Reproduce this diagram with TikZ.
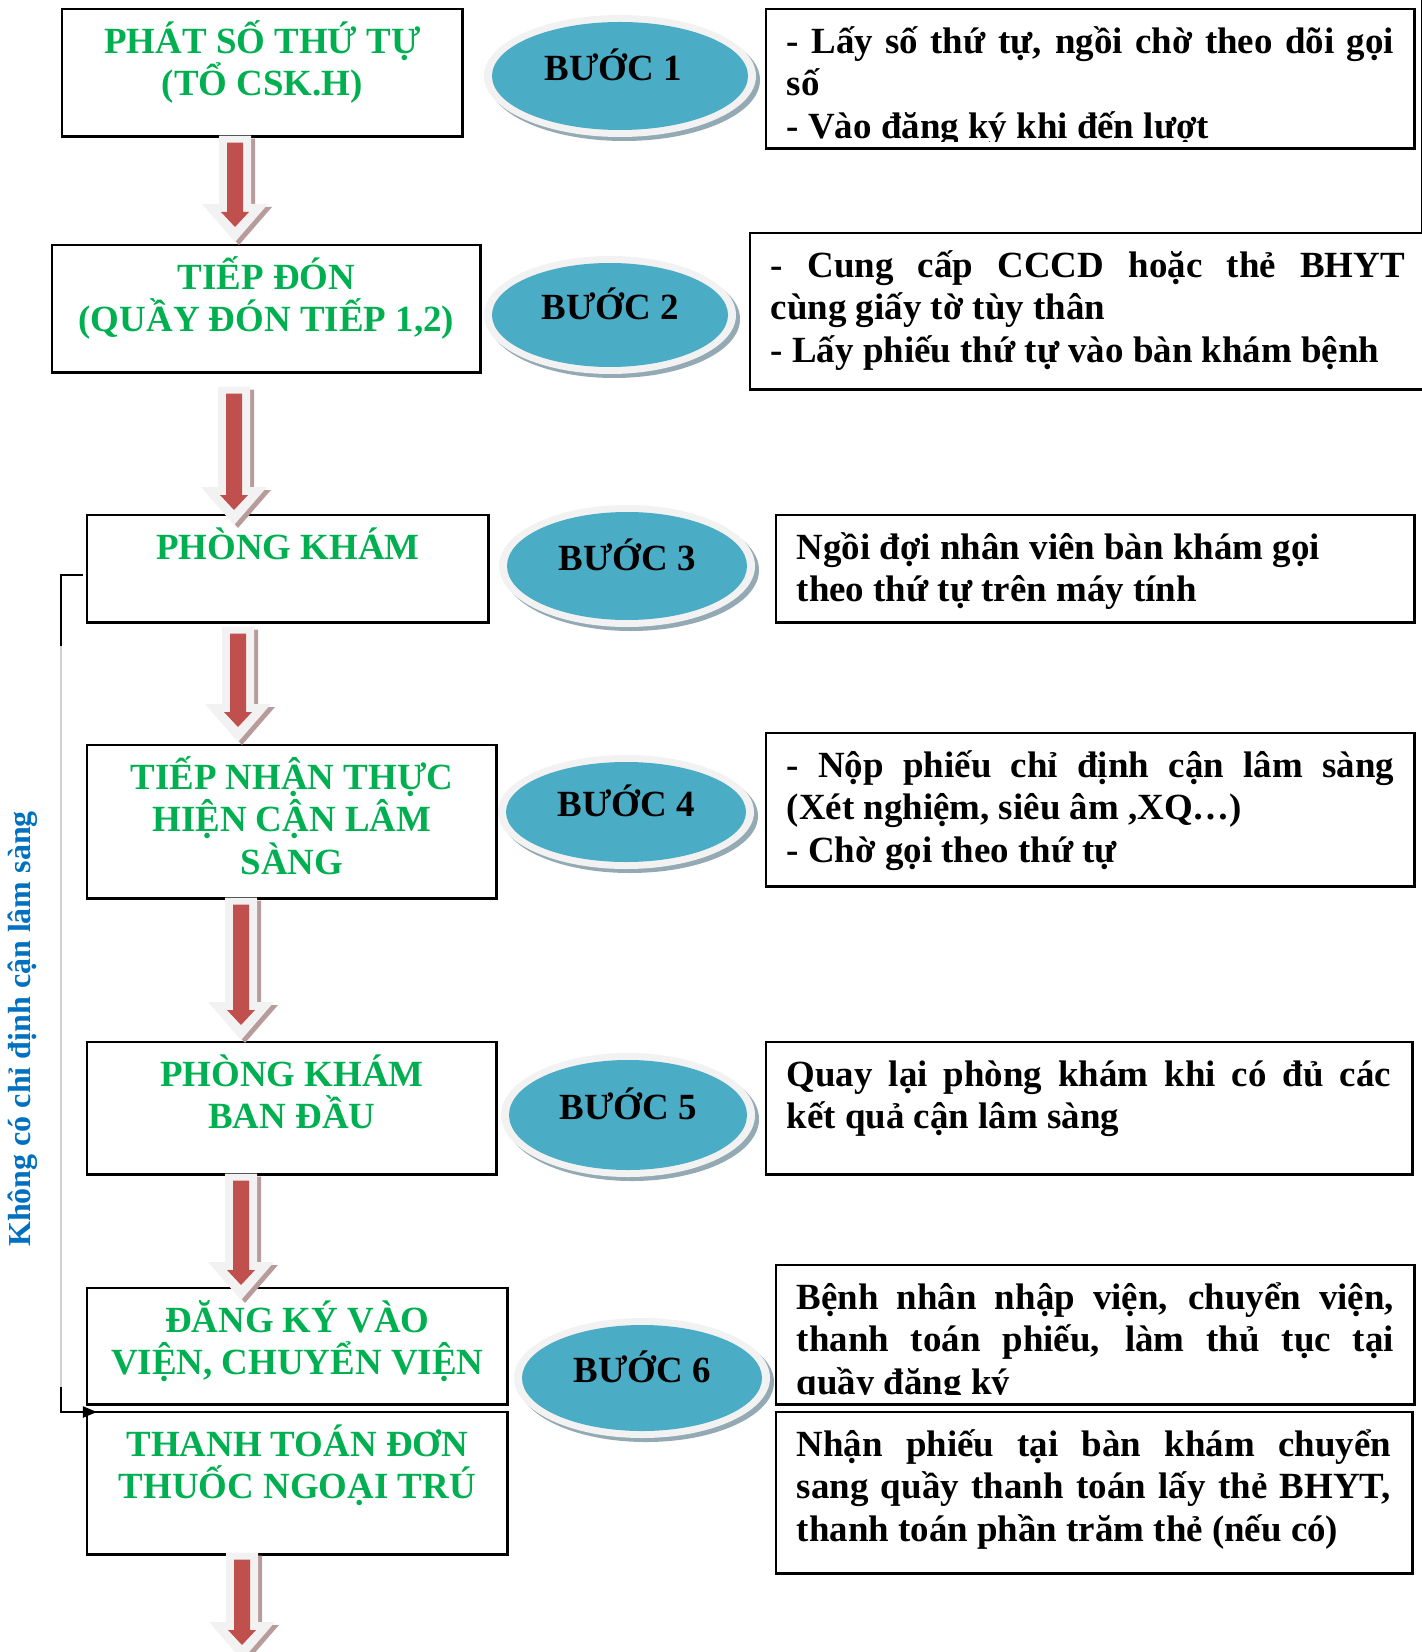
\documentclass[tikz,border=0pt]{standalone}
\usepackage{fontspec}
\setmainfont{Liberation Serif}
\usetikzlibrary{arrows.meta,calc,positioning}

\definecolor{placegreen}{HTML}{00B050}
\definecolor{sideblue}{HTML}{0070C0}
\definecolor{ovalblue}{HTML}{4BACC6}
\definecolor{ovalrim}{HTML}{F2F2F2}
\definecolor{ovalshade}{HTML}{93AAB4}
\definecolor{arrowred}{HTML}{C0504D}
\definecolor{arrowpale}{HTML}{F2F2F2}
\definecolor{arrowshade}{HTML}{B89C9C}

\newcommand{\spreadline}[2]{\leavevmode\hbox to #1{#2}}
\newcommand{\topstrut}{\rule{0pt}{0.445cm}}
\newcommand{\notestart}{\spaceskip=0pt\xspaceskip=0pt\topstrut}

% #1 = x of the arrow, #2 = from, #3 = to, #4 and #5 = shifts of top and tip
\newcommand{\flowarrow}[5]{%
  \coordinate (ax) at (#1,0);
  \coordinate (atop) at ($(#2 -| ax)+(0,#4)$);
  \coordinate (atip) at ($(#3 -| ax)+(0,#5)$);
  \fill[arrowshade] ($(atop)+(-12,3)$) -- ($(atip)+(-12,-35)$) -- ($(atip)+(-29,-35)$) -- ($(atip)+(4,3)$)
    -- ($(atip)+(37,-35)$) -- ($(atip)+(20,-35)$) -- ($(atop)+(20,3)$) -- cycle;
  \fill[arrowpale] ($(atop)+(-16,0)$) -- ($(atip)+(-16,-38)$) -- ($(atip)+(-33,-38)$) -- (atip)
    -- ($(atip)+(33,-38)$) -- ($(atip)+(16,-38)$) -- ($(atop)+(16,0)$) -- cycle;
  \fill[arrowred] ($(atop)+(-8,7)$) -- ($(atip)+(-8,-30)$) -- ($(atip)+(-14,-30)$) -- ($(atip)+(0,-15)$)
    -- ($(atip)+(14,-30)$) -- ($(atip)+(8,-30)$) -- ($(atop)+(8,7)$) -- cycle;
}

\begin{document}
\begin{tikzpicture}[x=0.01cm,y=-0.01cm]
\tikzstyle{every node}+=[inner sep=0pt]
\tikzstyle{txt}=[font=\fontsize{10.5pt}{12.1pt}\selectfont\bfseries]
\tikzstyle{placebox}=[draw=black, line width=0.7pt, anchor=north west]
\tikzstyle{placename}=[txt, text=placegreen, align=center, anchor=north]
\tikzstyle{notebox}=[draw=black, line width=0.7pt, anchor=north west]
\tikzstyle{notetext}=[txt, align=left, anchor=north west]
\tikzstyle{steplabel}=[txt]
\tikzstyle{bracketline}=[black, line width=0.6pt]
\tikzstyle{fadeline}=[black!18, line width=0.5pt]
\tikzstyle{sidelabel}=[font=\fontsize{9.1pt}{11pt}\selectfont\bfseries, text=sideblue, rotate=90]

\useasboundingbox (0,0) rectangle (1422,1652);
\clip (0,0) rectangle (1422,1652);

% places
\node[placebox, minimum width=4.00cm, minimum height=1.27cm] (ph1) at (61,8) {};
\node[placebox, minimum width=4.28cm, minimum height=1.27cm] (ph2) at (51,244) {};
\node[placebox, minimum width=4.01cm, minimum height=1.07cm] (ph3) at (86,514) {};
\node[placebox, minimum width=4.09cm, minimum height=1.53cm] (ph4) at (86,744) {};
\node[placebox, minimum width=4.09cm, minimum height=1.32cm] (ph5) at (86,1041) {};
\node[placebox, minimum width=4.20cm, minimum height=1.16cm] (ph6) at (86,1287) {};
\node[placebox, minimum width=4.20cm, minimum height=1.42cm] (ph7) at (86,1411) {};

\node[placename] (ph1t) at (ph1.north) {\topstrut PHÁT SỐ THỨ TỰ\\(TỔ CSK.H)};
\node[placename] (ph2t) at (ph2.north) {\topstrut TIẾP ĐÓN\\(QUẦY ĐÓN TIẾP 1,2)};
\node[placename] (ph3t) at (ph3.north) {\topstrut PHÒNG KHÁM};
\node[placename] (ph4t) at (ph4.north) {\topstrut TIẾP NHẬN THỰC\\HIỆN CẬN LÂM\\SÀNG};
\node[placename] (ph5t) at (ph5.north) {\topstrut PHÒNG KHÁM\\BAN ĐẦU};
\node[placename] (ph6t) at (ph6.north) {\topstrut ĐĂNG KÝ VÀO\\VIỆN, CHUYỂN VIỆN};
\node[placename] (ph7t) at (ph7.north) {\topstrut THANH TOÁN ĐƠN\\THUỐC NGOẠI TRÚ};

% notes
\node[notebox, minimum width=6.48cm, minimum height=1.39cm] (nt1) at (765,8) {};
\node[notebox, minimum width=6.75cm, minimum height=1.56cm] (nt2) at (749,232) {};
\node[notebox, minimum width=6.38cm, minimum height=1.07cm] (nt3) at (775,514) {};
\node[notebox, minimum width=6.48cm, minimum height=1.53cm] (nt4) at (765,732) {};
\node[notebox, minimum width=6.46cm, minimum height=1.32cm] (nt5) at (765,1041) {};
\node[notebox, minimum width=6.38cm, minimum height=1.39cm] (nt6) at (775,1264) {};
\node[notebox, minimum width=6.36cm, minimum height=1.61cm] (nt7) at (775,1411) {};
\draw[line width=0.7pt] (nt2.north east) ++(-5,0) -- ++(0,-240);

\begin{scope}
\clip (nt1.north west) rectangle ($(nt1.south east)+(0,-8)$);
\node[notetext, text width=6.07cm] (nt1t) at ($(nt1.north west)+(21,0)$)
  {\notestart\spreadline{6.07cm}{- Lấy số thứ tự, ngồi chờ theo dõi gọi}\\số\\- Vào đăng ký khi đến lượt};
\end{scope}
\node[notetext, text width=6.34cm] (nt2t) at ($(nt2.north west)+(21,0)$)
  {\notestart\spreadline{6.34cm}{- Cung cấp CCCD hoặc thẻ BHYT}\\cùng giấy tờ tùy thân\\- Lấy phiếu thứ tự vào bàn khám bệnh};
\node[notetext, text width=5.97cm] (nt3t) at ($(nt3.north west)+(21,0)$)
  {\notestart Ngồi đợi nhân viên bàn khám gọi\\theo thứ tự trên máy tính};
\node[notetext, text width=6.07cm] (nt4t) at ($(nt4.north west)+(21,0)$)
  {\notestart\spreadline{6.07cm}{- Nộp phiếu chỉ định cận lâm sàng}\\(Xét nghiệm, siêu âm ,XQ…)\\- Chờ gọi theo thứ tự};
\node[notetext, text width=6.04cm] (nt5t) at ($(nt5.north west)+(21,0)$)
  {\notestart\spreadline{6.04cm}{Quay lại phòng khám khi có đủ các}\\kết quả cận lâm sàng};
\begin{scope}
\clip (nt6.north west) rectangle ($(nt6.south east)+(0,-11)$);
\node[notetext, text width=5.97cm] (nt6t) at ($(nt6.north west)+(21,0)$)
  {\notestart\spreadline{5.97cm}{Bệnh nhân nhập viện, chuyển viện,}\\\spreadline{5.97cm}{thanh toán phiếu, làm thủ tục tại}\\quầy đăng ký};
\end{scope}
\node[notetext, text width=5.94cm] (nt7t) at ($(nt7.north west)+(21,0)$)
  {\notestart\spreadline{5.94cm}{Nhận phiếu tại bàn khám chuyển}\\\spreadline{5.94cm}{sang quầy thanh toán lấy thẻ BHYT,}\\thanh toán phần trăm thẻ (nếu có)};

% arrows between places
\coordinate (pageend) at (242,1652);
\flowarrow{235}{ph1.south}{ph2.north}{-2}{-2}
\flowarrow{234}{ph2.south}{ph3.north}{13}{11}
\flowarrow{238}{ph3.south}{ph4.north}{3}{-2}
\flowarrow{241}{ph4.south}{ph5.north}{-2}{-1}
\flowarrow{241}{ph5.south}{ph6.north}{-2}{13}
\flowarrow{242}{ph7.south}{pageend}{-3}{8}

% steps
\foreach \n/\cx/\cy/\rx/\ry/\dx in {1/620/76/128/54/-7, 2/610/315/118/52/0, 3/627/566/120/54/0,
                                     4/626/812/120/50/0, 5/628/1115/119/55/0, 6/642/1378/120/53/0}{
  \pgfmathsetmacro{\ra}{\rx+8}
  \pgfmathsetmacro{\rb}{\ry+7}
  \fill[ovalshade] (\cx+4,\cy+4) ellipse [x radius=\ra, y radius=\rb];
  \fill[ovalrim] (\cx,\cy) ellipse [x radius=\ra, y radius=\rb];
  \fill[ovalblue] (\cx,\cy) ellipse [x radius=\rx, y radius=\ry];
  \node[steplabel] (step\n) at (\cx+\dx,\cy-11) {BƯỚC \n};
}

% no lab test: back to the pay desk
\coordinate (kb1) at ($(ph3.west)+(-3,6)$);
\coordinate (kb2) at (61,646);
\coordinate (kb3) at (61,1387);
\draw[bracketline] (kb1) -| (kb2);
\draw[fadeline] (kb2) -- (kb3);
\draw[bracketline, -{Triangle[length=0.14cm,width=0.11cm]}] (kb3) |- ($(ph7.north west)+(11,1)$);
\node[sidelabel] (side) at (23,1029) {Không có chỉ định cận lâm sàng};
\end{tikzpicture}
\end{document}
